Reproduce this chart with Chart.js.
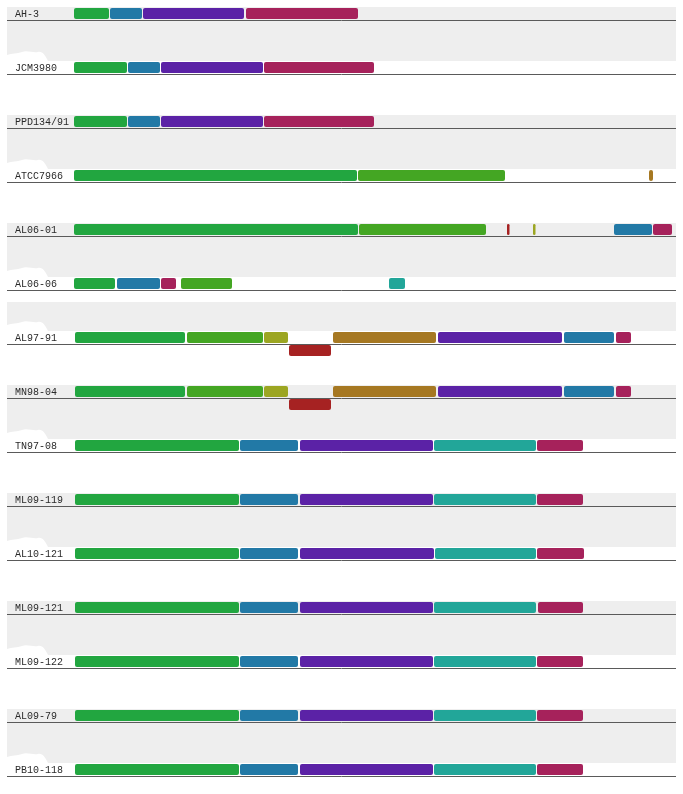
<!DOCTYPE html>
<html>
<head>
<meta charset="utf-8">
<script src="https://cdn.jsdelivr.net/npm/chart.js@4"></script>
<style>
html,body{margin:0;padding:0;background:#fff;}
#c{display:block;}
</style>
</head>
<body>
<canvas id="c" width="683" height="794" style="width:683px;height:794px"></canvas>
<script>
// ---- data ----
const labels = ['AH-3','JCM3980','PPD134/91','ATCC7966','AL06-01','AL06-06','AL97-91','MN98-04','TN97-08','ML09-119','AL10-121','ML09-121','ML09-122','AL09-79','PB10-118'];

const colors = {
  G:  '#22a640', // green
  G2: '#44a623', // yellow-green
  O:  '#9ca622', // olive
  Br: '#a67822', // brown
  R:  '#a62222', // red
  P:  '#5b22a6', // purple
  B:  '#2279a6', // blue
  T:  '#22a699', // teal
  M:  '#a6225b'  // magenta
};

// segments on the upper lane of each track: [start, end, colour key]
const segAH3      = [[0,35,'G'],[36,68,'B'],[69,170,'P'],[172,284,'M']];
const segJCM3980  = [[0,53,'G'],[54,86,'B'],[87,189,'P'],[190,300,'M']];
const segPPD13491 = [[0,53,'G'],[54,86,'B'],[87,189,'P'],[190,300,'M']];
const segATCC7966 = [[0,283,'G'],[284,431,'G2'],[575,579,'Br']];
const segAL0601   = [[0,284,'G'],[285,412,'G2'],[433,435.5,'R'],[459,461.5,'O'],[540,578,'B'],[579,598,'M']];
const segAL0606   = [[0,41,'G'],[43,86,'B'],[87,102,'M'],[107,158,'G2'],[315,331,'T']];
const segAL9791   = [[1,111,'G'],[113,189,'G2'],[190,214,'O'],[259,362,'Br'],[364,488,'P'],[490,540,'B'],[542,557,'M']];
const segMN9804   = [[1,111,'G'],[113,189,'G2'],[190,214,'O'],[259,362,'Br'],[364,488,'P'],[490,540,'B'],[542,557,'M']];
const segTN9708   = [[1,165,'G'],[166,224,'B'],[226,359,'P'],[360,462,'T'],[463,509,'M']];
const segML09119  = [[1,165,'G'],[166,224,'B'],[226,359,'P'],[360,462,'T'],[463,509,'M']];
const segAL10121  = [[1,165,'G'],[166,224,'B'],[226,360,'P'],[361,462,'T'],[463,510,'M']];
const segML09121  = [[1,165,'G'],[166,224,'B'],[226,359,'P'],[360,462,'T'],[464,509,'M']];
const segML09122  = [[1,165,'G'],[166,224,'B'],[226,359,'P'],[360,462,'T'],[463,509,'M']];
const segAL0979   = [[1,165,'G'],[166,224,'B'],[226,359,'P'],[360,462,'T'],[463,509,'M']];
const segPB10118  = [[1,165,'G'],[166,224,'B'],[226,359,'P'],[360,462,'T'],[463,509,'M']];

// segments on the lower (reverse) lane
const revAL9791 = [[215,257,'R']];
const revMN9804 = [[215,257,'R']];

// shaded comparison regions between tracks: [fromTrack, toTrack, starts at]
const shades = [[0,1,'band'],[2,3,'band'],[4,5,'band'],[5,6,'below'],[7,8,'band'],[9,10,'band'],[11,12,'band'],[13,14,'band']];

const xMax = 602;

// ---- build ----
const topRows = [segAH3,segJCM3980,segPPD13491,segATCC7966,segAL0601,segAL0606,segAL9791,segMN9804,segTN9708,segML09119,segAL10121,segML09121,segML09122,segAL0979,segPB10118];
const revRows = labels.map((l,i) => i===6 ? revAL9791 : (i===7 ? revMN9804 : []));

const datasets = [];
const maxTop = Math.max(...topRows.map(r => r.length));
for (let k = 0; k < maxTop; k++) {
  datasets.push({
    stack: 'top',
    clip: false,
    data: topRows.map(r => r[k] ? [r[k][0], r[k][1]] : null),
    backgroundColor: topRows.map(r => r[k] ? colors[r[k][2]] : 'rgba(0,0,0,0)')
  });
}
const maxRev = Math.max(...revRows.map(r => r.length));
for (let k = 0; k < maxRev; k++) {
  datasets.push({
    stack: 'bottom',
    clip: false,
    data: revRows.map(r => r[k] ? [r[k][0], r[k][1]] : null),
    backgroundColor: revRows.map(r => r[k] ? colors[r[k][2]] : 'rgba(0,0,0,0)')
  });
}

const trackPlugin = {
  id: 'tracks',
  beforeDraw(chart) {
    const ctx = chart.ctx;
    const y = chart.scales.y;
    const L = 7, Rr = chart.chartArea.right;
    ctx.save();
    shades.forEach(([a, b, mode]) => {
      const top = mode === 'below' ? y.getPixelForValue(a) + 12 : y.getPixelForValue(a) - 13;
      const bot = y.getPixelForValue(b) - 13;
      ctx.fillStyle = '#eeeeee';
      ctx.fillRect(L, top, Rr - L, bot - top);
      // soft white blob at lower left
      ctx.fillStyle = '#ffffff';
      ctx.beginPath();
      ctx.moveTo(L, bot);
      ctx.lineTo(L, bot - 6);
      ctx.bezierCurveTo(L + 5, bot - 8, L + 10, bot - 7, L + 15, bot - 9);
      ctx.bezierCurveTo(L + 20, bot - 11, L + 26, bot - 8, L + 31, bot - 9);
      ctx.bezierCurveTo(L + 36, bot - 10, L + 38, bot - 5, L + 40, bot - 2);
      ctx.lineTo(L + 41, bot);
      ctx.closePath();
      ctx.fill();
    });
    ctx.strokeStyle = '#5a5a5a';
    ctx.lineWidth = 1;
    labels.forEach((l, i) => {
      const py = Math.round(y.getPixelForValue(i)) + 0.5;
      ctx.beginPath();
      ctx.moveTo(L, py);
      ctx.lineTo(Rr, py);
      ctx.stroke();
    });
    ctx.restore();
  }
};

new Chart(document.getElementById('c'), {
  type: 'bar',
  data: { labels, datasets },
  options: {
    indexAxis: 'y',
    responsive: false,
    animation: false,
    events: [],
    layout: { padding: { left: 15, top: 20, right: 7, bottom: 18 } },
    categoryPercentage: 26 / 54,
    barPercentage: 11 / 13,
    datasets: { bar: { borderRadius: 2, borderSkipped: false, borderWidth: 0, inflateAmount: 0 } },
    plugins: { legend: { display: false }, tooltip: { enabled: false } },
    scales: {
      x: { type: 'linear', min: 0, max: xMax, stacked: false, display: false },
      y: {
        type: 'category',
        offset: false,
        grid: { display: false, drawTicks: false },
        border: { display: false },
        afterFit(s) { s.width = 59; },
        ticks: {
          autoSkip: false,
          crossAlign: 'far',
          padding: 0,
          labelOffset: -6,
          color: '#2a2a2a',
          font: { family: '"Liberation Mono", "DejaVu Sans Mono", monospace', size: 10 }
        }
      }
    }
  },
  plugins: [trackPlugin]
});
</script>
</body>
</html>
